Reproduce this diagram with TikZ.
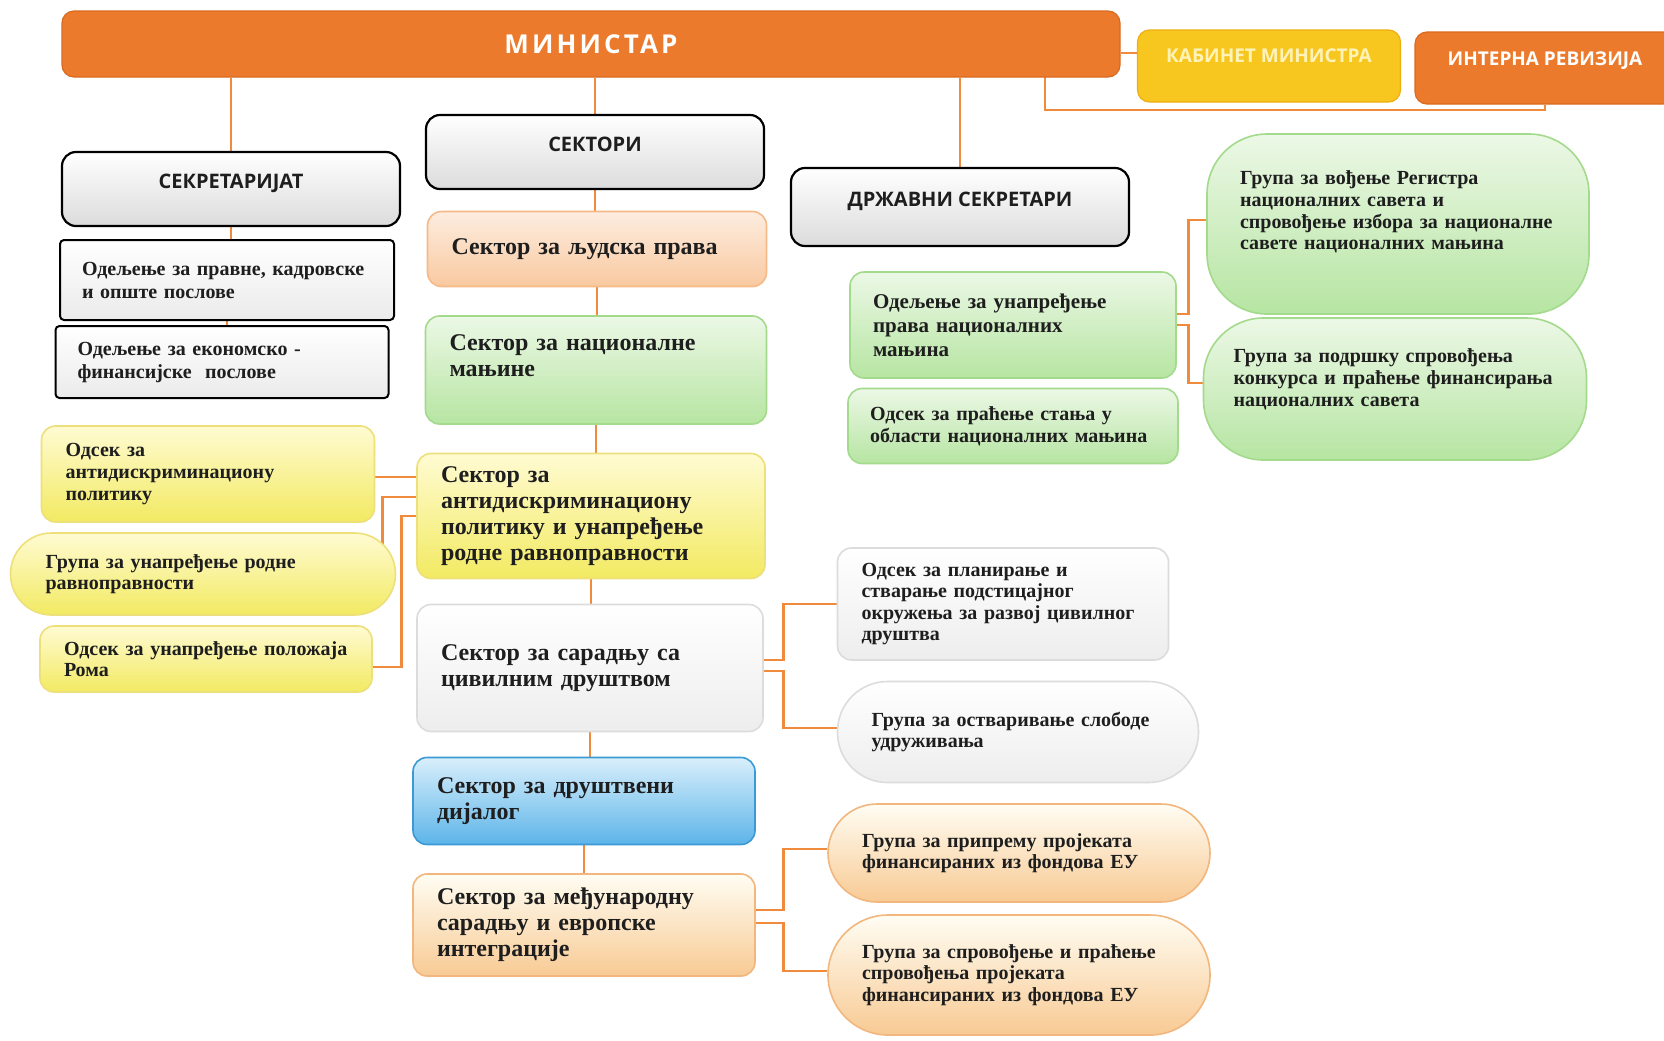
\documentclass[tikz,border=0pt]{standalone}
\usepackage{fontspec}
\setmainfont{Liberation Serif}
\newfontfamily\headfont{Open Sans}
\usepackage{tikz}
\usetikzlibrary{backgrounds}
\definecolor{orgline}{HTML}{F08A3C}
\definecolor{orgbar}{HTML}{EC7A2C}
\definecolor{orgedge}{HTML}{D96A1E}
\definecolor{kabfill}{HTML}{F7C61F}
\definecolor{kabedge}{HTML}{EFAE12}
\definecolor{kabtext}{HTML}{FFF3B8}
\definecolor{peachtop}{HTML}{FDEDE0}
\definecolor{peachbot}{HTML}{F9C9A0}
\definecolor{peachedge}{HTML}{F6B988}
\definecolor{greentop}{HTML}{ECF8E6}
\definecolor{greenbot}{HTML}{B6E5A2}
\definecolor{greenedge}{HTML}{A3DA8C}
\definecolor{yeltop}{HTML}{FFFBD2}
\definecolor{yelbot}{HTML}{F2EA62}
\definecolor{yeledge}{HTML}{EDE07A}
\definecolor{bluetop}{HTML}{D9EFFB}
\definecolor{bluebot}{HTML}{5CB4E9}
\definecolor{blueedge}{HTML}{3B9AD6}
\definecolor{creamtop}{HTML}{FFFDF3}
\definecolor{creambot}{HTML}{F8CA94}
\definecolor{creamedge}{HTML}{F2B77E}
\definecolor{greyedge}{HTML}{DCDCDC}
\definecolor{ink}{HTML}{1E1E1E}
\tikzset {
  % orange bars at the top
  topbar/.style = {fill=orgbar, draw=orgedge, line width=0.6pt, rounded corners=6pt, text=white},
  % black framed boxes with capital titles
  headbox/.style = {draw=black, line width=1.1pt, rounded corners=7pt, top color=white, bottom color=black!14,
    text=ink, font=\headfont\bfseries\fontsize{10}{12}\selectfont, minimum width=169pt, minimum height=37pt, text depth=8pt},
  % units of the secretariat
  secunit/.style = {draw=black, line width=1pt, rounded corners=2pt, top color=white, bottom color=black!8,
    text=ink, align=left, inner xsep=11pt, inner ysep=3pt, font=\bfseries\fontsize{10}{11.5}\selectfont},
  % sectors in the middle column
  sector/.style = {rounded corners=7pt, line width=0.8pt, align=left, inner xsep=12pt, inner ysep=3pt,
    text=ink, font=\bfseries\fontsize{12}{13}\selectfont},
  % departments and groups
  subunit/.style = {rounded corners=7pt, line width=0.8pt, align=left, inner xsep=12pt, inner ysep=3pt,
    text=ink, font=\bfseries\fontsize{10}{10.8}\selectfont},
  % fills
  peach/.style = {draw=peachedge, top color=peachtop, bottom color=peachbot},
  green/.style = {draw=greenedge, top color=greentop, bottom color=greenbot},
  yellow/.style = {draw=yeledge, top color=yeltop, bottom color=yelbot},
  blue/.style = {draw=blueedge, top color=bluetop, bottom color=bluebot},
  cream/.style = {draw=creamedge, top color=creamtop, bottom color=creambot},
  grey/.style = {draw=greyedge, top color=white, bottom color=black!7},
  % orange connectors
  link/.style = {draw=orgline, line width=1.4pt},
}

\begin{document}
\begin{tikzpicture}[x=0.5pt, y=-0.5pt]
        \useasboundingbox (0,0) rectangle (1664,1040);
        \clip (0,0) rectangle (1664,1040);

        % top row
        \node[topbar, minimum width=529pt, minimum height=33pt,
          font=\headfont\bfseries\fontsize{13}{15}\selectfont\addfontfeatures{LetterSpace=12}] (ministar) at (591,44) {МИНИСТАР};
        \node[topbar, fill=kabfill, draw=kabedge, text=kabtext, minimum width=131.5pt, minimum height=36pt, text depth=10pt,
          font=\headfont\bfseries\fontsize{9.5}{11}\selectfont] (kabinet) at (1269,66) {КАБИНЕТ МИНИСТРА};
        \node[topbar, minimum width=130pt, minimum height=36pt, text depth=9pt,
          font=\headfont\bfseries\fontsize{9.5}{11}\selectfont] (revizija) at (1545,68) {ИНТЕРНА РЕВИЗИЈА};

        % secretariat
        \node[headbox] (sekretarijat) at (231,189) {СЕКРЕТАРИЈАТ};
        \node[secunit, text width=145pt, minimum height=40pt] (pravni) at (227,280)
          {Одељење за правне, кадровске\\и опште послове};
        \node[secunit, text width=144.5pt, minimum height=36pt] (ekonomski) at (222,362)
          {Одељење за економско -\\финансијске \ послове};

        % sectors
        \node[headbox] (sektori) at (595,152) {СЕКТОРИ};
        \node[sector, peach, text width=145.5pt, minimum height=37.5pt] (ljudska) at (597,249)
          {Сектор за људска права};
        \node[sector, green, text width=146.5pt, minimum height=54pt, text depth=27pt] (manjine) at (596,370)
          {Сектор за националне\\мањине};
        \node[sector, yellow, text width=150pt, minimum height=62.5pt] (antidiskr) at (591,516)
          {Сектор за\\антидискриминациону\\политику и унапређење\\родне равноправности};
        \node[sector, grey, text width=149pt, minimum height=63.5pt] (saradnja) at (590,668)
          {Сектор за сарадњу са\\цивилним друштвом};
        \node[sector, blue, text width=147pt, minimum height=43.5pt] (dijalog) at (584,801)
          {Сектор за друштвени\\дијалог};
        \node[sector, cream, text width=147pt, minimum height=51pt] (medjunarodna) at (584,925)
          {Сектор за међународну\\сарадњу и европске\\интеграције};

        % left of the antidiscrimination sector
        \node[subunit, yellow, text width=142.5pt, minimum height=48pt] (odsekAnti) at (208,474)
          {Одсек за\\антидискриминациону\\политику};
        \node[subunit, yellow, rounded corners=20.5pt, inner xsep=17.5pt, text width=157.5pt, minimum height=41pt] (grupaRod) at (203,574)
          {Група за унапређење родне\\равноправности};
        \node[subunit, yellow, text width=142pt, minimum height=33pt] (odsekRoma) at (206,659)
          {Одсек за унапређење положаја\\Рома};

        % state secretaries
        \node[headbox, minimum height=39pt] (drzavni) at (960,207) {ДРЖАВНИ СЕКРЕТАРИ};
        \node[subunit, green, inner xsep=11.5pt, text width=140pt, minimum height=53pt,
          font=\bfseries\fontsize{10.5}{12}\selectfont] (odeljenjeMan) at (1013,325)
          {Одељење за унапређење\\права националних\\мањина};
        \node[subunit, green, inner xsep=11pt, text width=143pt, minimum height=37.5pt] (odsekStanje) at (1013,426)
          {Одсек за праћење стања у\\области националних мањина};
        \node[subunit, green, rounded corners=30pt, inner xsep=16.5pt, text width=158pt, minimum height=90pt, text depth=46pt] (grupaRegistar) at (1398,224)
          {Група за вођење Регистра\\националних савета и\\спровођење избора за националне\\савете националних мањина};
        \node[subunit, green, rounded corners=30pt, inner xsep=15pt, text width=161.5pt, minimum height=71pt, text depth=33pt] (grupaPodrska) at (1395,389)
          {Група за подршку спровођења\\конкурса и праћење финансирања\\националних савета};

        % right of the civil society sector
        \node[subunit, grey, text width=141.5pt, minimum height=56pt] (odsekPlan) at (1003,604)
          {Одсек за планирање и\\стварање подстицајног\\окружења за развој цивилног\\друштва};
        \node[subunit, grey, rounded corners=25pt, inner xsep=17pt, text width=146.5pt, minimum height=50.5pt] (grupaUdruz) at (1018,732)
          {Група за остваривање слободе\\удруживања};

        % right of the international sector
        \node[subunit, cream, rounded corners=24.5pt, inner xsep=17pt, text width=157pt, minimum height=49pt] (grupaPriprema) at (1019,853)
          {Група за припрему пројеката\\финансираних из фондова ЕУ};
        \node[subunit, cream, rounded corners=30pt, inner xsep=17pt, text width=157pt, minimum height=60pt] (grupaSprov) at (1019,975)
          {Група за спровођење и праћење\\спровођења пројеката\\финансираних из фондова ЕУ};

        \begin{scope}[on background layer]
        \fill[white] (0,0) rectangle (1664,1040);

        % from the minister
        \draw[link] (ministar.south -| sekretarijat.north) -- (sekretarijat.north);
        \draw[link] (ministar.south -| sektori.north) -- (sektori.north);
        \draw[link] (ministar.south -| drzavni.north) -- (drzavni.north);
        \draw[link] ([yshift=-4.5pt]ministar.east) -- ([yshift=-4.5pt]ministar.east -| kabinet.west);
        \coordinate (revtap) at (1045,70);
        \draw[link] (revtap) -- ++(0,40) -| (revizija.south);

        % secretariat
        \draw[link] (sekretarijat.south) -- (sekretarijat.south |- pravni.north);
        \draw[link] (pravni.south) -- (pravni.south |- ekonomski.north);

        % sector column
        \draw[link] (sektori.south) -- (sektori.south |- ljudska.north);
        \draw[link] (ljudska.south) -- (ljudska.south |- manjine.north);
        \draw[link] (manjine.south) -- (manjine.south |- antidiskr.north);
        \draw[link] (antidiskr.south) -- (antidiskr.south |- saradnja.north);
        \draw[link] (saradnja.south) -- (saradnja.south |- dijalog.north);
        \draw[link] (dijalog.south) -- (dijalog.south |- medjunarodna.north);

        % left branches
        \draw[link] ([yshift=19.5pt]antidiskr.west) -- ([yshift=19.5pt]antidiskr.west -| odsekAnti.east);
        \draw[link] ([yshift=9.5pt]antidiskr.west) -| ([xshift=-7pt]grupaRod.east);
        \draw[link] (antidiskr.west) -- ++(-15,0) |- ([yshift=-4pt]odsekRoma.east);

        % right branches
        \draw[link] ([yshift=5.5pt]odeljenjeMan.east) -- ++(12,0) |- ([yshift=2pt]grupaRegistar.west);
        \draw[link] (odeljenjeMan.east) -- ++(12,0) |- ([yshift=3pt]grupaPodrska.west);
        \draw[link] ([yshift=4pt]saradnja.east) -- ++(20,0) |- (odsekPlan.west);
        \draw[link] ([yshift=-1.5pt]saradnja.east) -- ++(20,0) |- ([yshift=2pt]grupaUdruz.west);
        \draw[link] ([yshift=7.5pt]medjunarodna.east) -- ++(28,0) |- ([yshift=2pt]grupaPriprema.west);
        \draw[link] ([yshift=1pt]medjunarodna.east) -- ++(28,0) |- ([yshift=2pt]grupaSprov.west);
        \end{scope}

      \end{tikzpicture}
\end{document}
